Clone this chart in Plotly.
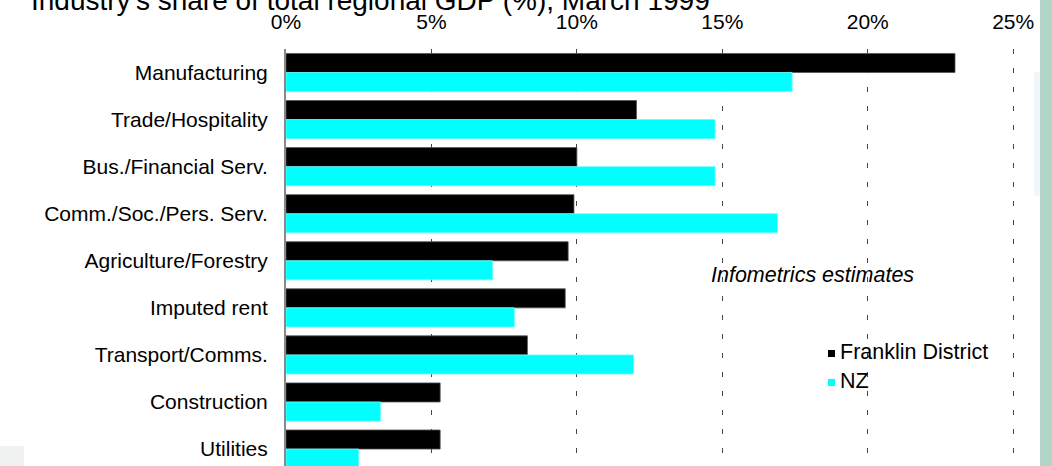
import plotly.graph_objects as go

categories = ["Manufacturing", "Trade/Hospitality", "Bus./Financial Serv.",
              "Comm./Soc./Pers. Serv.", "Agriculture/Forestry", "Imputed rent",
              "Transport/Comms.", "Construction", "Utilities"]
franklin = [23.0, 12.05, 10.0, 9.9, 9.7, 9.6, 8.3, 5.3, 5.3]
nz = [17.4, 14.75, 14.75, 16.9, 7.1, 7.85, 11.95, 3.25, 2.5]
tick_vals = [0, 5, 10, 15, 20, 25]
tick_text = ["0%", "5%", "10%", "15%", "20%", "25%"]

FONT = "Liberation Sans, Arial, sans-serif"
W, H = 1052, 466
L, R, T, B = 286, 33, 49, 0
pw = W - L - R
ph = H - T - B

def px_x(p):
    return (p - L) / pw

def px_y(p):
    return (H - B - p) / ph

fig = go.Figure()
fig.add_trace(go.Bar(y=categories, x=franklin, orientation="h", name="Franklin District",
                     marker=dict(color="#000000", line=dict(color="#555555", width=0.8)),
                     showlegend=False))
fig.add_trace(go.Bar(y=categories, x=nz, orientation="h", name="NZ",
                     marker=dict(color="#00FFFF", line=dict(color="#66FFFF", width=0.8)),
                     showlegend=False))

shapes = [
    # screenshot background artefacts
    dict(type="rect", xref="paper", yref="paper", x0=px_x(1040), x1=px_x(1053),
         y0=px_y(467), y1=px_y(-1), fillcolor="#b1d5c6", line=dict(width=0), layer="below"),
    dict(type="rect", xref="paper", yref="paper", x0=px_x(1034), x1=px_x(1040),
         y0=px_y(196), y1=px_y(72), fillcolor="#f2f6fb", line=dict(width=0), layer="below"),
    dict(type="rect", xref="paper", yref="paper", x0=px_x(0), x1=px_x(24),
         y0=px_y(467), y1=px_y(446), fillcolor="#f0f2f2", line=dict(width=0), layer="below"),
    # legend keys
    dict(type="rect", xref="paper", yref="paper", x0=px_x(828), x1=px_x(835),
         y0=px_y(357), y1=px_y(350), fillcolor="#000000", line=dict(width=0)),
    dict(type="rect", xref="paper", yref="paper", x0=px_x(828), x1=px_x(835),
         y0=px_y(386), y1=px_y(379), fillcolor="#00FFFF", line=dict(width=0)),
]

annotations = [
    dict(text="Industry's share of total regional GDP (%), March 1999", xref="paper", yref="paper",
         x=px_x(29), y=px_y(18), xanchor="left", yanchor="bottom", showarrow=False,
         font=dict(family=FONT, size=28, color="#000000")),
    dict(text="<i>Infometrics estimates</i>", xref="paper", yref="paper",
         x=px_x(812), y=px_y(275), xanchor="center", yanchor="middle", showarrow=False,
         font=dict(family=FONT, size=21.5, color="#000000")),
    dict(text="Franklin District", xref="paper", yref="paper",
         x=px_x(838), y=px_y(352), xanchor="left", yanchor="middle", showarrow=False,
         font=dict(family=FONT, size=21.5, color="#000000")),
    dict(text="NZ", xref="paper", yref="paper",
         x=px_x(838), y=px_y(381), xanchor="left", yanchor="middle", showarrow=False,
         font=dict(family=FONT, size=21.5, color="#000000")),
]

fig.update_layout(
    width=W, height=H,
    margin=dict(l=L, r=R, t=T, b=B, pad=0),
    paper_bgcolor="#ffffff", plot_bgcolor="#ffffff",
    barmode="group", bargap=0.19, bargroupgap=0,
    font=dict(family=FONT, size=21, color="#000000"),
    shapes=shapes, annotations=annotations,
    xaxis=dict(side="top", range=[0, 25.2], tickvals=tick_vals, ticktext=tick_text,
               showgrid=True, gridcolor="#444444", gridwidth=1, griddash="5px,14px",
               zeroline=False, showline=False, ticks="", ticklabelstandoff=15,
               tickfont=dict(family=FONT, size=21, color="#000000"), fixedrange=True),
    yaxis=dict(type="category", categoryorder="array", categoryarray=categories,
               range=[8.36, -0.5], showgrid=False, zeroline=False,
               showline=True, linecolor="#888888", linewidth=2, ticks="",
               ticklabelstandoff=12,
               tickfont=dict(family=FONT, size=21, color="#000000"), fixedrange=True),
)

fig.write_html("out.html")
